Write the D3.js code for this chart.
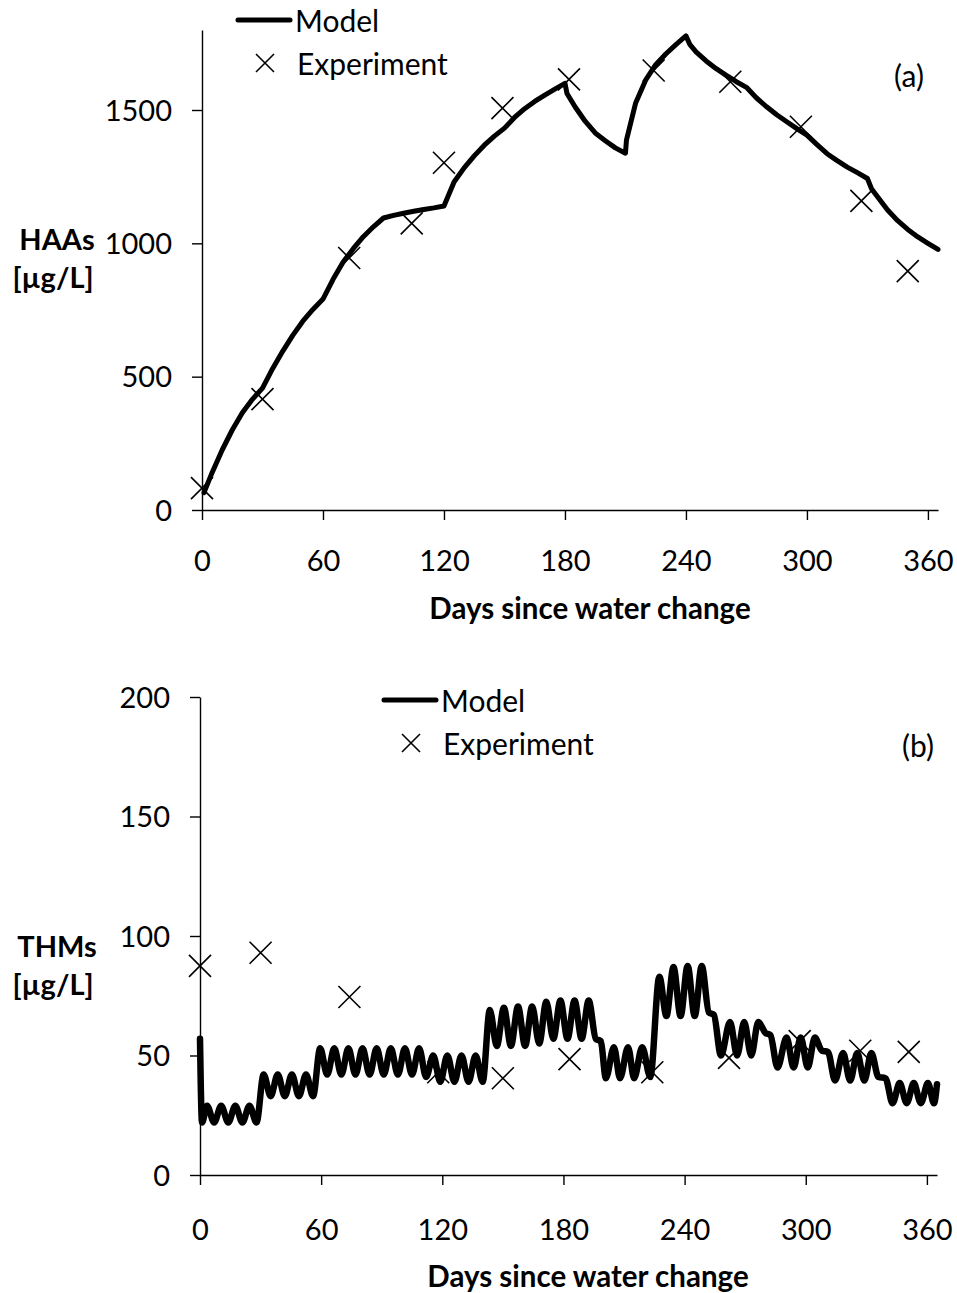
<!DOCTYPE html>
<html>
<head>
<meta charset="utf-8">
<script src="https://cdn.jsdelivr.net/npm/d3@7"></script>
<style>
  body { margin: 0; background: #fff; }
  svg { display: block; font-family: Lato, "Open Sans", sans-serif; }
  .axis path, .axis line { stroke: #000; stroke-width: 1.4; }
  .axis text { font-size: 29px; fill: #000; font-family: Lato, "Open Sans", sans-serif; }
</style>
</head>
<body>
<svg id="chart" width="957" height="1293"></svg>
<script>
// ---- data ----
const xTicks = [0, 60, 120, 180, 240, 300, 360];
const haaTicks = [0, 500, 1000, 1500];
const thmTicks = [0, 50, 100, 150, 200];

// (a) HAAs model, days and µg/L
const haaDays = [1, 5, 10, 15, 20, 25, 30,
  35, 40, 45, 50, 55, 60,
  65, 70, 75, 80, 85, 90,
  95, 100, 105, 110, 115, 120,
  125, 130, 135, 140, 145, 150,
  155, 160, 165, 170, 175, 180,
  181, 185, 190, 195, 200, 205, 210,
  210.5, 215, 220, 225, 230, 235, 240,
  242, 245, 250, 255, 260, 265, 270,
  275, 280, 285, 290, 295, 300,
  305, 310, 315, 320, 325, 330,
  332, 335, 340, 345, 350, 355, 360, 365];
const haaModel = [65, 140, 225, 300, 365, 415, 457,
  530, 595, 655, 708, 752, 791,
  865, 930, 980, 1025, 1062, 1095,
  1105, 1113, 1120, 1127, 1133, 1140,
  1230, 1283, 1328, 1368, 1402, 1432,
  1472, 1505, 1532, 1556, 1578, 1600,
  1562, 1512, 1458, 1414, 1385, 1358, 1338,
  1387, 1525, 1612, 1670, 1710, 1745, 1778,
  1745, 1718, 1684, 1655, 1630, 1606, 1585,
  1545, 1512, 1482, 1456, 1430, 1406,
  1370, 1336, 1310, 1286, 1265, 1243,
  1205, 1175, 1125, 1085, 1052, 1024, 1000, 977];

// (a) HAAs experiment
const haaExpDays = [0, 30, 73, 104, 120, 149, 182, 224, 262, 297, 327, 350];
const haaExp = [82, 416, 945, 1075, 1302, 1507, 1615, 1648, 1606, 1437, 1159, 896];

// (b) THMs model, weekly peaks and troughs, days and µg/L
const thmDays = [0, 1, 3.5, 7, 10.5, 14, 17.5, 21, 24.5, 28,
  31.5, 35, 38.5, 42, 45.5, 49, 52.5, 56,
  59.5, 63, 66.5, 70, 73.5, 77, 80.5, 84, 87.5, 91, 94.5, 98, 101.5, 105, 108.5, 112,
  115.5, 119, 122.5, 126, 129.5, 133, 136.5, 140,
  143.5, 147, 150.5, 154, 157.5, 161, 164.5, 168, 171.5, 175, 178.5, 182, 185.5, 189, 192.5,
  196, 198.5, 201, 205, 208, 212, 215, 219, 223,
  227.5, 231, 234.5, 238, 241.5, 245, 248.5, 252, 254.5, 258,
  262.5, 266, 269.5, 273, 276.5, 280, 282.5, 286,
  290.5, 294, 297.5, 301, 304.5, 308, 311, 314.5,
  318.5, 322, 325.5, 329, 332.5, 336, 339.5, 343,
  346.5, 350, 353.5, 357, 360.5, 363.5, 365];
const thmModel = [57, 22, 29, 22, 29, 22, 29, 22, 29, 22,
  42, 33, 42, 33, 42, 33, 42, 33,
  53, 42, 53, 42, 53, 42, 53, 42, 53, 42, 53, 42, 53, 42, 53, 41,
  50, 39, 50, 39, 50, 39, 50, 39,
  69, 54, 70, 54, 70.5, 54, 70.5, 55, 72.5, 57, 73, 57, 73, 57, 73,
  57, 56, 40.5, 53.5, 40.5, 53.5, 40.5, 53.5, 41,
  83, 66.5, 87, 66.5, 87.5, 66.5, 87.5, 68, 67, 50,
  64, 50, 64, 50, 64, 59.5, 58.5, 45,
  57.5, 45, 57.5, 45, 57.5, 52, 51.5, 39.5,
  51, 39.5, 51, 39.5, 51, 41, 40.5, 30,
  38.5, 30, 38.5, 30, 38.5, 30, 38];

// (b) THMs experiment
const thmExpDays = [0, 30, 74, 118, 150, 183, 224, 262, 297, 327, 351];
const thmExp = [87.5, 93, 74.5, 43, 40.5, 48.5, 43, 49, 56, 52, 51.5];

// ---- drawing ----
const svg = d3.select("#chart");

function drawPanel(cfg) {
  const x = d3.scaleLinear().domain([0, 365]).range([cfg.left, cfg.right]);
  const y = d3.scaleLinear().domain(cfg.yDomain).range([cfg.bottom, cfg.top]);

  // axes
  svg.append("g")
    .attr("class", "axis")
    .attr("transform", `translate(0, ${cfg.bottom})`)
    .call(d3.axisBottom(x).tickValues(xTicks).tickSize(10).tickSizeOuter(0))
    .call(g => g.selectAll("text").attr("dy", "0.35em").attr("y", cfg.tickLabelDy));

  svg.append("g")
    .attr("class", "axis")
    .attr("transform", `translate(${cfg.left}, 0)`)
    .call(d3.axisLeft(y).tickValues(cfg.yTicks).tickFormat(d3.format("d"))
      .tickSize(10).tickSizeOuter(0).tickPadding(20))
    .call(g => g.selectAll("text").attr("dy", "0.35em"));

  // model line
  const pts = cfg.days.map((d, i) => [d, cfg.model[i]]);
  const line = d3.line()
    .x(d => x(d[0]))
    .y(d => y(d[1]))
    .curve(cfg.curve);
  svg.append("path")
    .datum(pts)
    .attr("d", line)
    .attr("fill", "none")
    .attr("stroke", "#000")
    .attr("stroke-width", cfg.lineWidth)
    .attr("stroke-linejoin", "round")
    .attr("stroke-linecap", "round");

  // experiment crosses
  svg.append("g").selectAll("path")
    .data(cfg.expDays.map((d, i) => [d, cfg.exp[i]]))
    .join("path")
    .attr("transform", d => `translate(${x(d[0])}, ${y(d[1])})`)
    .attr("d", "M-11,-11L11,11M-11,11L11,-11")
    .attr("fill", "none")
    .attr("stroke", "#000")
    .attr("stroke-width", 1.6);

  // axis titles
  svg.append("text")
    .attr("x", cfg.xTitleX)
    .attr("y", cfg.xTitleY)
    .attr("text-anchor", "middle")
    .attr("dominant-baseline", "central")
    .style("font-size", "29.5px")
    .style("font-weight", "bold")
    .text("Days since water change");

  cfg.yTitle.forEach((t, i) => {
    svg.append("text")
      .attr("x", i === 0 ? 57 : 53)
      .attr("y", cfg.yTitleY + i * 38)
      .attr("text-anchor", "middle")
      .attr("dominant-baseline", "central")
      .style("font-size", "29px")
      .style("font-weight", "bold")
      .text(t);
  });

  // panel letter
  svg.append("text")
    .attr("x", cfg.letterX)
    .attr("y", cfg.letterY)
    .attr("text-anchor", "middle")
    .attr("dominant-baseline", "central")
    .style("font-size", "30px")
    .text(cfg.letter);

  // legend
  const lg = svg.append("g").attr("transform", `translate(${cfg.legendX}, ${cfg.legendY})`);
  lg.append("line")
    .attr("x1", 0).attr("x2", 52).attr("y1", 0).attr("y2", 0)
    .attr("stroke", "#000").attr("stroke-width", 5).attr("stroke-linecap", "round");
  lg.append("text").attr("x", 57).attr("y", 0)
    .attr("dominant-baseline", "central").style("font-size", "30px").text("Model");
  lg.append("path")
    .attr("transform", `translate(27, 43)`)
    .attr("d", "M-9,-9L9,9M-9,9L9,-9")
    .attr("stroke", "#000").attr("stroke-width", 1.6);
  lg.append("text").attr("x", 59).attr("y", 43)
    .attr("dominant-baseline", "central").style("font-size", "30px").text("Experiment");
}

drawPanel({
  left: 202, right: 938, top: 30, bottom: 510,
  yDomain: [0, 1800], yTicks: haaTicks,
  days: haaDays, model: haaModel, curve: d3.curveLinear, lineWidth: 5,
  expDays: haaExpDays, exp: haaExp, tickLabelDy: 51,
  xTitleX: 590, xTitleY: 607, yTitle: ["HAAs", "[µg/L]"], yTitleY: 238,
  letter: "(a)", letterX: 909, letterY: 75,
  legendX: 238, legendY: 20
});

drawPanel({
  left: 200, right: 937, top: 697, bottom: 1175,
  yDomain: [0, 200], yTicks: thmTicks,
  days: thmDays, model: thmModel, curve: d3.curveMonotoneX, lineWidth: 6.5,
  expDays: thmExpDays, exp: thmExp, tickLabelDy: 55,
  xTitleX: 588, xTitleY: 1275, yTitle: ["THMs", "[µg/L]"], yTitleY: 945,
  letter: "(b)", letterX: 918, letterY: 745,
  legendX: 384, legendY: 700
});
</script>
</body>
</html>
